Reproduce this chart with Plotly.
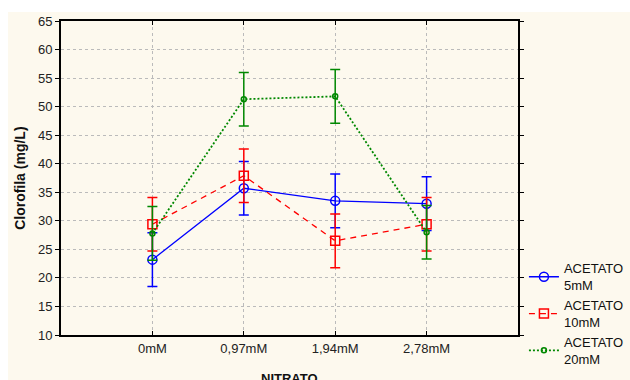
import plotly.graph_objects as go

categories = ["0mM", "0,97mM", "1,94mM", "2,78mM"]
series_names = ["ACETATO<br>5mM", "ACETATO<br>10mM", "ACETATO<br>20mM"]
acetato_5 = [23.2, 35.7, 33.5, 33.0]
acetato_5_err = [4.7, 4.7, 4.7, 4.7]
acetato_10 = [29.4, 37.9, 26.5, 29.4]
acetato_10_err = [4.7, 4.7, 4.7, 4.7]
acetato_20 = [27.8, 51.3, 51.8, 28.0]
acetato_20_err = [4.7, 4.7, 4.7, 4.7]
y_ticks = [10, 15, 20, 25, 30, 35, 40, 45, 50, 55, 60, 65]

styles = [
    dict(color="#0000FF", dash="solid", symbol="circle-open", size=9, lw=1.3),
    dict(color="#FF0000", dash="6px,5px", symbol="square-open", size=9, lw=1.3),
    dict(color="#008800", dash="2px,2px", symbol="circle-open", size=5, lw=1.8),
]
data = [(acetato_5, acetato_5_err), (acetato_10, acetato_10_err), (acetato_20, acetato_20_err)]

fig = go.Figure()
for name, (vals, errs), st in zip(series_names, data, styles):
    fig.add_trace(go.Scatter(
        x=list(range(len(categories))), y=vals, name=name,
        mode="lines+markers",
        line=dict(color=st["color"], dash=st["dash"], width=st["lw"]),
        marker=dict(symbol=st["symbol"], size=st["size"], color=st["color"],
                    line=dict(width=1.5, color=st["color"])),
        error_y=dict(type="data", array=errs, visible=True, color=st["color"],
                     thickness=1.5, width=5),
    ))

font = "Liberation Sans, Arial, sans-serif"
fig.update_layout(
    width=630, height=380,
    margin=dict(l=61, r=112, t=21, b=45, autoexpand=False),
    paper_bgcolor="white", plot_bgcolor="white",
    font=dict(family=font, size=13, color="#222222"),
    showlegend=True,
    legend=dict(x=1.013, y=0.26, xanchor="left", yanchor="top",
                bgcolor="rgba(0,0,0,0)", font=dict(size=13, color="#111111"),
                tracegroupgap=0, itemwidth=30),
    shapes=[dict(type="rect", xref="paper", yref="paper", x0=-0.116, x1=1.5,
                 y0=-0.5, y1=1.0287, fillcolor="#FDF9EE", line=dict(width=0),
                 layer="below")],
    annotations=[
        dict(text="<b>NITRATO</b>", xref="paper", yref="paper", x=0.5, y=-0.108,
             xanchor="center", yanchor="top", showarrow=False,
             font=dict(size=13, color="#111111")),
        dict(text="<b>Clorofila (mg/L)</b>", xref="paper", yref="paper", x=-0.09, y=0.5,
             xanchor="center", yanchor="middle", textangle=-90, showarrow=False,
             font=dict(size=14, color="#111111")),
    ],
)
fig.update_xaxes(
    range=[-1, 4], tickvals=list(range(len(categories))), ticktext=categories,
    showgrid=True, gridcolor="#BBBBBB", griddash="dot", gridwidth=1,
    showline=True, linecolor="black", linewidth=2, mirror="ticks",
    ticks="inside", ticklen=4, tickcolor="black", zeroline=False, automargin=False,
)
fig.update_yaxes(
    range=[10, 65], tickvals=y_ticks,
    showgrid=True, gridcolor="#BBBBBB", griddash="dot", gridwidth=1,
    showline=True, linecolor="black", linewidth=2, mirror="ticks",
    ticks="outside", ticklen=4, tickcolor="black", zeroline=False, automargin=False,
)
fig.write_html(
    "out.html",
    config={"displayModeBar": False},
    post_script="document.body.style.margin='0';document.body.style.overflow='hidden';",
)
